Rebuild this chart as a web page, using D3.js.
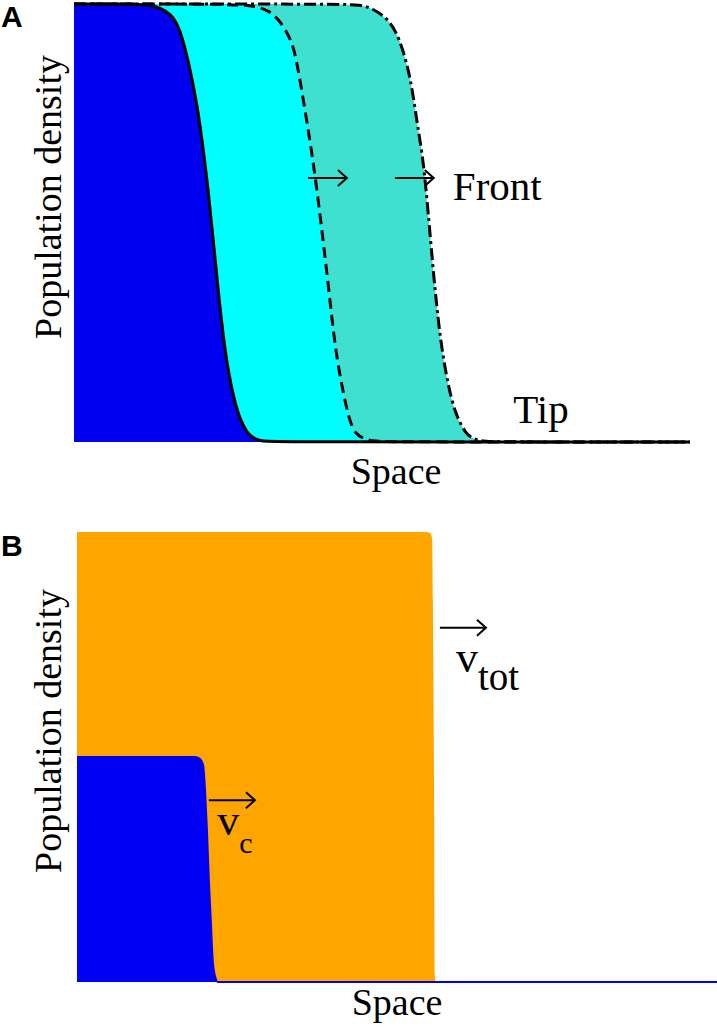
<!DOCTYPE html>
<html>
<head>
<meta charset="utf-8">
<script src="https://cdn.jsdelivr.net/npm/d3@7"></script>
<style>
  html, body { margin: 0; padding: 0; background: #fff; }
  svg { display: block; }
  .serif { font-family: "Liberation Serif", "Tinos", "Times New Roman", "DejaVu Serif", serif; }
  .sansb { font-family: "Liberation Sans", Arimo, Arial, sans-serif; font-weight: bold; }
</style>
</head>
<body>
<svg id="chart" width="717" height="1027"></svg>
<script>
// ---------- Panel A data (space 0-100, density 0-1) ----------
const solidX = [0, 10.7, 12.3, 14.0, 15.6, 17.2, 18.8, 20.0, 20.9, 21.8, 22.6, 23.4, 24.2, 25.0, 26.0, 27.0, 28.1, 29.1, 30.5, 31.8, 100];
const solidY = [1, 1, 0.998, 0.991, 0.979, 0.947, 0.856, 0.769, 0.678, 0.575, 0.461, 0.347, 0.244, 0.164, 0.096, 0.050, 0.021, 0.009, 0.002, 0, 0];

const dashedX = [0, 26.1, 29.4, 31.5, 33.4, 35.1, 36.0, 37.5, 38.8, 39.9, 41.2, 42.4, 43.7, 44.8, 45.8, 46.8, 48.4, 50.5, 100];
const dashedY = [1, 1, 0.995, 0.986, 0.963, 0.922, 0.884, 0.758, 0.644, 0.523, 0.370, 0.210, 0.112, 0.043, 0.018, 0.009, 0.002, 0, 0];

const dashDotX = [0, 43.2, 46.4, 48.4, 51.3, 52.9, 54.2, 55.0, 55.8, 56.7, 57.5, 58.3, 59.1, 59.9, 61.0, 61.9, 62.7, 63.5, 64.3, 65.9, 68.3, 100];
const dashDotY = [1, 1, 0.998, 0.991, 0.963, 0.918, 0.856, 0.797, 0.719, 0.644, 0.523, 0.393, 0.279, 0.194, 0.112, 0.068, 0.043, 0.023, 0.011, 0.002, 0, 0];

// ---------- Panel B data ----------
const totalX = [0, 54.5, 55.2, 55.5, 55.6, 55.8, 55.9, 56.1, 100];
const totalY = [1, 1, 0.998, 0.982, 0.849, 0.4, 0.016, 0, 0];

const coreX = [0, 18.4, 19.2, 19.7, 20.0, 20.3, 20.6, 20.9, 21.2, 21.6, 22.0, 100];
const coreY = [0.5, 0.5, 0.496, 0.482, 0.427, 0.338, 0.227, 0.138, 0.049, 0.011, 0, 0];

// ---------- Annotations (data units) ----------
const arrowsA = [[38.0, 44.3, 0.603], [52.1, 58.4, 0.603]];
const labelsA = [{t: "Front", x: 61.5, y: 0.553}, {t: "Tip", x: 71.3, y: 0.043}];
const arrowsB = [[56.7, 63.9, 0.787], [20.6, 27.8, 0.404]];
const labelsB = [{v: "v", sub: "tot", x: 59.2, y: 0.689, subSize: 39}, {v: "v", sub: "c", x: 21.9, y: 0.327, subSize: 30}];

const svg = d3.select("#chart");

function zip(xs, ys) { return xs.map((x, i) => ({x: x, y: ys[i]})); }

function drawArrow(g, x, y, x1, x2, yv) {
  const ax = x(x1), bx = x(x2), ay = y(yv);
  g.append("line").attr("x1", ax).attr("x2", bx).attr("y1", ay).attr("y2", ay)
    .attr("stroke", "#000").attr("stroke-width", 2);
  g.append("path").attr("d", `M${bx - 9},${ay - 8} L${bx},${ay} L${bx - 9},${ay + 8}`)
    .attr("fill", "none").attr("stroke", "#000").attr("stroke-width", 2);
}

// ================= Panel A =================
{
  const x = d3.scaleLinear().domain([0, 100]).range([74, 690]);
  const y = d3.scaleLinear().domain([0, 1]).range([442, 4]);
  const g = svg.append("g");
  const area = d3.area().x(d => x(d.x)).y0(y(0)).y1(d => y(d.y)).curve(d3.curveBasis);
  const line = d3.line().x(d => x(d.x)).y(d => y(d.y)).curve(d3.curveBasis);

  const dd = zip(dashDotX, dashDotY), da = zip(dashedX, dashedY), so = zip(solidX, solidY);
  g.append("path").attr("d", area(dd)).attr("fill", "#40e0d0");
  g.append("path").attr("d", area(da)).attr("fill", "#00ffff");
  g.append("path").attr("d", area(so)).attr("fill", "#0000f0");

  g.append("path").attr("d", line(dd)).attr("fill", "none").attr("stroke", "#000")
    .attr("stroke-width", 3).attr("stroke-dasharray", "12,4,3,4");
  g.append("path").attr("d", line(da)).attr("fill", "none").attr("stroke", "#000")
    .attr("stroke-width", 3).attr("stroke-dasharray", "11,6");
  g.append("path").attr("d", line(so)).attr("fill", "none").attr("stroke", "#000")
    .attr("stroke-width", 3);

  arrowsA.forEach(a => drawArrow(g, x, y, a[0], a[1], a[2]));
  labelsA.forEach(l => g.append("text").attr("class", "serif").attr("x", x(l.x)).attr("y", y(l.y))
    .attr("font-size", 41).attr("fill", "#000").text(l.t));

  g.append("text").attr("class", "serif").attr("x", 396).attr("y", 484).attr("text-anchor", "middle")
    .attr("font-size", 38).text("Space");
  g.append("text").attr("class", "serif").attr("transform", "translate(61,197) rotate(-90)")
    .attr("text-anchor", "middle").attr("font-size", 38).text("Population density");
  g.append("text").attr("class", "sansb").attr("x", 1).attr("y", 27)
    .attr("font-size", 30).text("A");
}

// ================= Panel B =================
{
  const x = d3.scaleLinear().domain([0, 100]).range([77, 717]);
  const y = d3.scaleLinear().domain([0, 1]).range([982, 532]);
  const g = svg.append("g");
  const area = d3.area().x(d => x(d.x)).y0(y(0)).y1(d => y(d.y)).curve(d3.curveMonotoneX);
  const line = d3.line().x(d => x(d.x)).y(d => y(d.y)).curve(d3.curveMonotoneX);

  const to = zip(totalX, totalY), co = zip(coreX, coreY);
  g.append("path").attr("d", area(to)).attr("fill", "#ffa500");
  g.append("path").attr("d", area(co)).attr("fill", "#0000f5");
  g.append("path").attr("d", line(co)).attr("fill", "none").attr("stroke", "#0000f5")
    .attr("stroke-width", 2);

  arrowsB.forEach(a => drawArrow(g, x, y, a[0], a[1], a[2]));
  labelsB.forEach(l => {
    const t = g.append("text").attr("class", "serif").attr("x", x(l.x)).attr("y", y(l.y))
      .attr("font-size", 44).attr("fill", "#000");
    t.append("tspan").text(l.v);
    t.append("tspan").attr("dy", 18).attr("font-size", l.subSize).text(l.sub);
  });

  g.append("text").attr("class", "serif").attr("x", 397).attr("y", 1015).attr("text-anchor", "middle")
    .attr("font-size", 38).text("Space");
  g.append("text").attr("class", "serif").attr("transform", "translate(61,731) rotate(-90)")
    .attr("text-anchor", "middle").attr("font-size", 38).text("Population density");
  g.append("text").attr("class", "sansb").attr("x", 1).attr("y", 556)
    .attr("font-size", 30).text("B");
}
</script>
</body>
</html>
